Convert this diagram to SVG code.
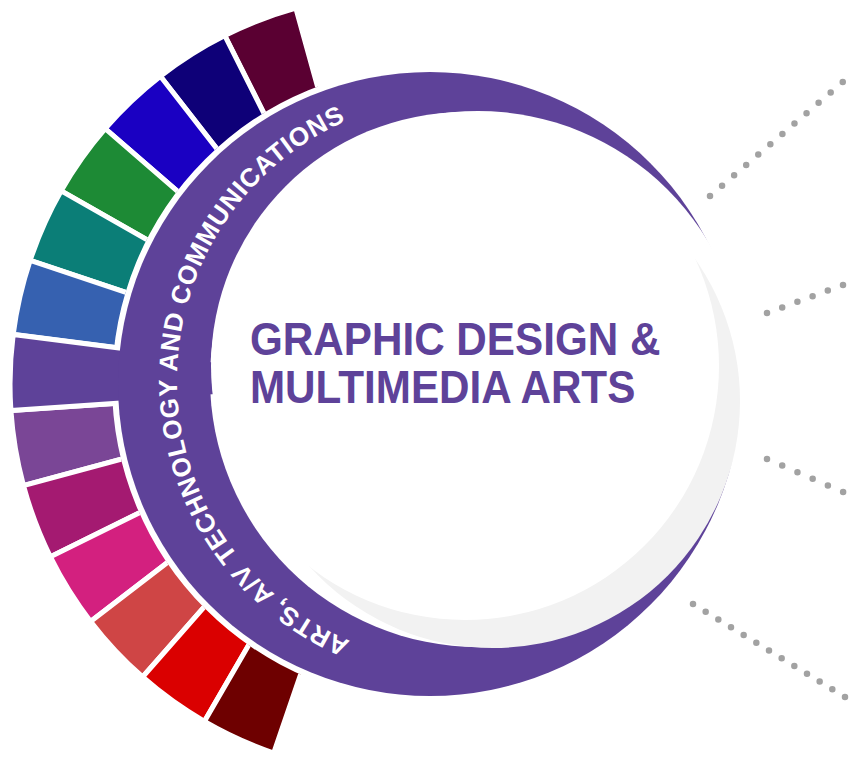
<svg xmlns="http://www.w3.org/2000/svg" width="849" height="757" viewBox="0 0 849 757">
  <style>
    .seg { stroke: #ffffff; stroke-width: 5; stroke-linejoin: miter; }
    .ring { fill: #5e4299; }
    .ringtext { font-family: "Liberation Sans", Arial, sans-serif; font-weight: bold; font-size: 26px; fill: #ffffff; letter-spacing: 0.75px; }
    .title { font-family: "Liberation Sans", Arial, sans-serif; font-weight: bold; font-size: 46px; fill: #5e4299; }
    .dots { fill: none; stroke: #a2a2a2; stroke-width: 6.5; stroke-linecap: round; }
  </style>
  <defs>
    <clipPath id="annulus">
      <path clip-rule="evenodd" d="M0,0H849V757H0Z M112,384 a318,318 0 1,0 636,0 a318,318 0 1,0 -636,0Z"/>
    </clipPath>
    <mask id="crescentCut" maskUnits="userSpaceOnUse" x="0" y="0" width="849" height="757">
      <rect width="849" height="757" fill="#ffffff"/>
      <circle cx="478" cy="379" r="268" fill="#000000"/>
    </mask>
    <path id="textArc" d="M350.3,640.9 A283,283 0 0 1 363.2,114.1"/>
  </defs>
  <rect width="849" height="757" fill="#ffffff"/>

  <g id="segments">
    <g clip-path="url(#annulus)">
      <path id="seg-maroon" class="seg" fill="#5a0032" d="M400,384 L295.8,8.2 A390,390 0 0 0 224.8,35.6 Z"/>
      <path id="seg-navy" class="seg" fill="#0e0078" d="M400,384 L224.8,35.6 A390,390 0 0 0 160.4,76.3 Z"/>
      <path id="seg-blue" class="seg" fill="#1a00c2" d="M400,384 L160.4,76.3 A390,390 0 0 0 105.2,128.7 Z"/>
      <path id="seg-green" class="seg" fill="#1d8a35" d="M400,384 L105.2,128.7 A390,390 0 0 0 61.2,190.8 Z"/>
      <path id="seg-teal" class="seg" fill="#0b7e77" d="M400,384 L61.2,190.8 A390,390 0 0 0 30.2,260.3 Z"/>
      <path id="seg-lightblue" class="seg" fill="#3661b0" d="M400,384 L30.2,260.3 A390,390 0 0 0 13.2,334.4 Z"/>
      <path id="seg-lavender" class="seg" fill="#7a4696" d="M400,384 L10.9,410.5 A390,390 0 0 0 23.5,485.6 Z"/>
      <path id="seg-magenta" class="seg" fill="#a41a71" d="M400,384 L23.5,485.6 A390,390 0 0 0 50.4,556.8 Z"/>
      <path id="seg-pink" class="seg" fill="#d3207f" d="M400,384 L50.4,556.8 A390,390 0 0 0 90.6,621.4 Z"/>
      <path id="seg-coral" class="seg" fill="#cf4545" d="M400,384 L90.6,621.4 A390,390 0 0 0 142.6,677 Z"/>
      <path id="seg-red" class="seg" fill="#da0000" d="M400,384 L142.6,677 A390,390 0 0 0 204.4,721.4 Z"/>
      <path id="seg-darkred" class="seg" fill="#6e0000" d="M400,384 L204.4,721.4 A390,390 0 0 0 273.7,753 Z"/>
    </g>
    <path id="seg-purple" class="seg" fill="#5e4299" d="M400,384 L13.2,334.4 A390,390 0 0 0 10.9,410.5 Z"/>
  </g>

  <g id="ring">
    <circle class="ring" cx="430" cy="384" r="312" mask="url(#crescentCut)"/>
    <text class="ringtext"><textPath href="#textArc">ARTS, A/V TECHNOLOGY AND COMMUNICATIONS</textPath></text>
  </g>

  <g id="center">
    <circle cx="493" cy="401" r="247" fill="#f2f2f2"/>
    <circle cx="465" cy="366" r="254" fill="#ffffff"/>
    <text class="title" transform="scale(0.918,1)"><tspan x="272.3" y="355">GRAPHIC DESIGN &amp;</tspan><tspan x="272.3" y="403">MULTIMEDIA ARTS</tspan></text>
  </g>

  <g id="connectors">
    <path class="dots" stroke-dasharray="0 15.9" d="M710,196 L855,71.6"/>
    <path class="dots" stroke-dasharray="0 16.2" d="M767,313 L862,278"/>
    <path class="dots" stroke-dasharray="0 16.6" d="M767,459 L862,500.3"/>
    <path class="dots" stroke-dasharray="0 14.85" d="M693,604 L858,705"/>
  </g>
</svg>
